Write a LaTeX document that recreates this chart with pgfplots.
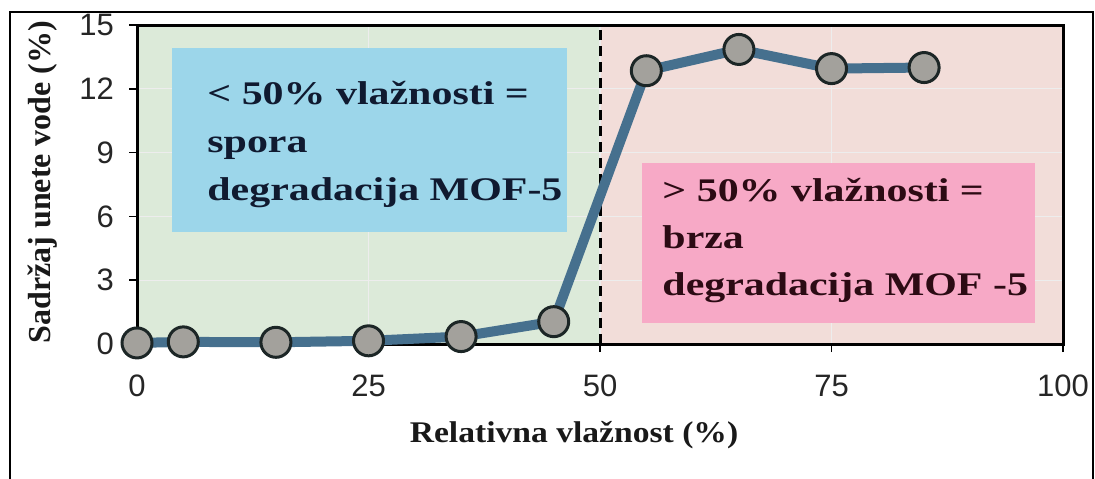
\documentclass[border=0pt]{standalone}
\usepackage{fontspec}
\setmainfont{Liberation Serif}
\setsansfont{Liberation Sans}
\usepackage{graphicx}
\usepackage{pgfplots}
\pgfplotsset{compat=1.18}
\definecolor{bggreen}{HTML}{DCEAD9}
\definecolor{bgpink}{HTML}{F2DDD9}
\definecolor{boxblue}{HTML}{9CD6EA}
\definecolor{boxpink}{HTML}{F7A9C6}
\definecolor{linecol}{HTML}{46708E}
\definecolor{markfill}{HTML}{A3A19C}
\definecolor{markedge}{HTML}{1C2626}
\definecolor{navytext}{HTML}{101A30}
\definecolor{maroontext}{HTML}{2C0B14}
\begin{document}
\begin{tikzpicture}
\begin{axis}[
  at={(68.5pt,67pt)}, anchor=south west,
  scale only axis, width=463pt, height=159.5pt,
  xmin=0, xmax=100, ymin=0, ymax=15,
  xtick={0,25,50,75,100}, ytick={0,3,6,9,12,15},
  tick pos=left,
  tick align=outside, major tick length=4pt,
  tick style={line width=0.8pt, black},
  axis line style={line width=1.5pt},
  grid=major, grid style={line width=0.6pt, black!7},
  set layers, clip=false,
  ticklabel style={font=\sffamily\fontsize{15.5}{15.5}\selectfont, text=black!85},
  /pgf/number format/assume math mode=true,
  xticklabel style={yshift=-8pt},
  yticklabel style={xshift=-4pt},
]
\begin{pgfonlayer}{axis background}
\fill[bggreen] (axis cs:0,0) rectangle (axis cs:50,15);
\fill[bgpink] (axis cs:50,0) rectangle (axis cs:100,15);
\end{pgfonlayer}
\fill[boxblue] (axis cs:3.78,5.27) rectangle (axis cs:46.4,13.92);
\fill[boxpink] (axis cs:54.5,0.99) rectangle (axis cs:97,8.51);
\draw[line width=1.5pt, dash pattern=on 5pt off 3pt] (axis cs:50,0) -- (axis cs:50,15);
\node[anchor=base west, font=\bfseries\fontsize{16.5}{16.5}\selectfont, text=navytext, inner sep=0pt] at (axis cs:7.56,11.24) {\scalebox{1.27}[1]{< 50\% vlažnosti =}};
\node[anchor=base west, font=\bfseries\fontsize{16.5}{16.5}\selectfont, text=navytext, inner sep=0pt] at (axis cs:7.56,9.0) {\scalebox{1.27}[1]{spora}};
\node[anchor=base west, font=\bfseries\fontsize{16.5}{16.5}\selectfont, text=navytext, inner sep=0pt] at (axis cs:7.56,6.77) {\scalebox{1.27}[1]{degradacija MOF-5}};
\node[anchor=base west, font=\bfseries\fontsize{16.5}{16.5}\selectfont, text=maroontext, inner sep=0pt] at (axis cs:56.7,6.72) {\scalebox{1.27}[1]{> 50\% vlažnosti =}};
\node[anchor=base west, font=\bfseries\fontsize{16.5}{16.5}\selectfont, text=maroontext, inner sep=0pt] at (axis cs:56.7,4.49) {\scalebox{1.27}[1]{brza}};
\node[anchor=base west, font=\bfseries\fontsize{16.5}{16.5}\selectfont, text=maroontext, inner sep=0pt] at (axis cs:56.7,2.26) {\scalebox{1.27}[1]{degradacija MOF -5}};
\addplot[linecol, line width=5pt, mark=*, mark size=7.5pt,
  mark options={fill=markfill, draw=markedge, line width=1.5pt}]
  coordinates {(0,0.05) (5,0.1) (15,0.08) (25,0.15) (35,0.35) (45,1.05) (55,12.85) (65,13.85) (75,12.95) (85,13.0)};
\end{axis}
\node[rotate=90, font=\bfseries\fontsize{16}{16}\selectfont, text=black!90] at (21.5pt,148pt) {Sadržaj unete vode (\%)};
\node[anchor=base, font=\bfseries\fontsize{15}{15}\selectfont, text=black!90] at (287pt,18pt) {\scalebox{1.12}[1]{Relativna vlažnost (\%)}};
\draw[line width=1pt] (5pt,-3pt) -- (5pt,233pt) -- (546.5pt,233pt) -- (546.5pt,-3pt);
\pgfresetboundingbox
\path[use as bounding box] (0pt,0pt) rectangle (547.5pt,239pt);
\end{tikzpicture}
\end{document}
